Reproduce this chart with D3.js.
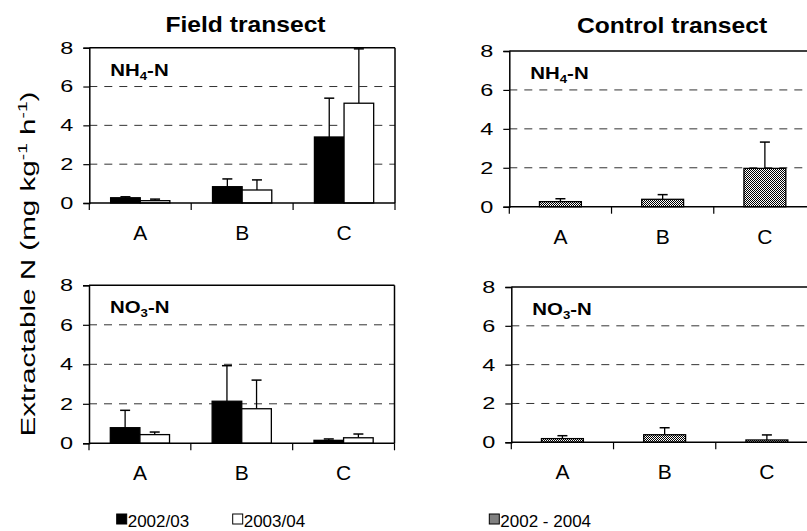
<!DOCTYPE html>
<html>
<head>
<meta charset="utf-8">
<script src="https://cdn.jsdelivr.net/npm/d3@7"></script>
<style>
	body { margin: 0; background: white; }
	svg { display: block; font-family: Arial, 'Liberation Sans', sans-serif; }
</style>
</head>
<body>
<svg id="svg"></svg>
<script>
const categories = ['A', 'B', 'C']
const yTicks = [0, 2, 4, 6, 8]
const legendLabels = ['2002/03', '2003/04', '2002 - 2004']

// field transect, two seasons (mean, + error)
const fieldNH4_0203 = [0.27, 0.84, 3.40]
const fieldNH4_0203Err = [0.05, 0.40, 2.00]
const fieldNH4_0304 = [0.12, 0.67, 5.14]
const fieldNH4_0304Err = [0.08, 0.52, 2.80]
const fieldNO3_0203 = [0.79, 2.13, 0.15]
const fieldNO3_0203Err = [0.88, 1.80, 0.07]
const fieldNO3_0304 = [0.44, 1.75, 0.28]
const fieldNO3_0304Err = [0.13, 1.45, 0.19]

// control transect, pooled
const controlNH4 = [0.26, 0.38, 1.97]
const controlNH4Err = [0.15, 0.24, 1.35]
const controlNO3 = [0.19, 0.39, 0.12]
const controlNO3Err = [0.15, 0.36, 0.26]

const w = 807
const h = 531

let svg = d3.select('#svg').attr('width', w).attr('height', h)

let defs = svg.append('defs')
let pat = defs.append('pattern').attr('id', 'checker')
	.attr('width', 2).attr('height', 2).attr('patternUnits', 'userSpaceOnUse')
pat.append('rect').attr('width', 2).attr('height', 2).attr('fill', 'white')
pat.append('rect').attr('width', 1).attr('height', 1).attr('fill', 'black')
pat.append('rect').attr('x', 1).attr('y', 1).attr('width', 1).attr('height', 1).attr('fill', 'black')

const fills = ['black', 'white', 'url(#checker)']

const panels = [
	{ x0: 89.3, x1: 395, top: 47.7, zero: 203, label: 'NH', sub: '4', right: true,
		series: [[fieldNH4_0203, fieldNH4_0203Err, 0], [fieldNH4_0304, fieldNH4_0304Err, 1]] },
	{ x0: 509.3, x1: 816, top: 51, zero: 206.7, label: 'NH', sub: '4', right: false,
		series: [[controlNH4, controlNH4Err, 2]] },
	{ x0: 89, x1: 394.5, top: 285.3, zero: 443.3, label: 'NO', sub: '3', right: true,
		series: [[fieldNO3_0203, fieldNO3_0203Err, 0], [fieldNO3_0304, fieldNO3_0304Err, 1]] },
	{ x0: 511.3, x1: 818, top: 287, zero: 442.3, label: 'NO', sub: '3', right: false,
		series: [[controlNO3, controlNO3Err, 2]] }
]

// the original text is drawn wider than plain Arial
const tickStretch = 1.38
const labelStretch = 1.2
const titleStretch = 1.12

const drawPanel = p => {
	let g = svg.append('g')

	let x = d3.scaleBand().domain(categories).range([p.x0, p.x1])
	let xs = d3.scaleBand().domain(d3.range(p.series.length))
		.range([0, x.bandwidth()]).paddingOuter(0.72)
	let y = d3.scaleLinear().domain([0, 8]).range([p.zero, p.top])

	// dashed grid
	g.selectAll('.grid').data(yTicks.filter(t => t > 0 && t < 8)).enter()
		.append('line')
		.attr('x1', p.x0).attr('x2', p.x1)
		.attr('y1', d => y(d)).attr('y2', d => y(d))
		.attr('stroke', '#333').attr('stroke-width', 1)
		.attr('stroke-dasharray', '8,7')

	// frame
	g.append('line').attr('x1', p.x0).attr('x2', p.x1).attr('y1', y(8)).attr('y2', y(8))
		.attr('stroke', 'black').attr('stroke-width', 1.5)
	if (p.right) {
		g.append('line').attr('x1', p.x1).attr('x2', p.x1).attr('y1', y(8)).attr('y2', y(0))
			.attr('stroke', 'black').attr('stroke-width', 1.5)
	}

	p.series.forEach((s, si) => {
		let [vals, errs, fi] = s
		let data = categories.map((c, i) => ({ c, v: vals[i], e: errs[i] }))
		let bg = g.append('g')
		let cx = d => x(d.c) + xs(si) + xs.bandwidth() / 2

		bg.selectAll('line.err').data(data).enter().append('line')
			.attr('x1', cx).attr('x2', cx)
			.attr('y1', d => y(d.v)).attr('y2', d => y(d.v + d.e))
			.attr('stroke', 'black').attr('stroke-width', 1.3)
		bg.selectAll('line.cap').data(data).enter().append('line')
			.attr('x1', d => cx(d) - 5).attr('x2', d => cx(d) + 5)
			.attr('y1', d => y(d.v + d.e)).attr('y2', d => y(d.v + d.e))
			.attr('stroke', 'black').attr('stroke-width', 1.5)

		bg.selectAll('rect').data(data).enter().append('rect')
			.attr('x', d => x(d.c) + xs(si))
			.attr('width', xs.bandwidth())
			.attr('y', d => y(d.v))
			.attr('height', d => y(0) - y(d.v))
			.attr('fill', fills[fi])
			.attr('stroke', 'black').attr('stroke-width', 1.3)
	})

	// y axis
	let ya = g.append('g').attr('transform', `translate(${p.x0},0)`)
		.call(d3.axisLeft(y).tickValues(yTicks).tickSize(6).tickPadding(0))
	ya.select('.domain').attr('stroke-width', 1.5)
	ya.selectAll('.tick line').attr('stroke-width', 1.2)
	ya.selectAll('text').attr('font-size', 17).attr('fill', 'black')
		.attr('font-family', 'Arial, Liberation Sans, sans-serif')
		.attr('x', 0)
		.attr('transform', `translate(-16,0) scale(${tickStretch},1)`)

	// x axis, ticks on band edges
	g.append('line').attr('x1', p.x0).attr('x2', p.x1).attr('y1', y(0)).attr('y2', y(0))
		.attr('stroke', 'black').attr('stroke-width', 1.5)
	let edges = categories.map(c => x(c)).concat([p.x1])
	g.selectAll('.xt').data(edges).enter().append('line')
		.attr('x1', d => d).attr('x2', d => d)
		.attr('y1', y(0)).attr('y2', y(0) + 7)
		.attr('stroke', 'black').attr('stroke-width', 1.2)
	g.selectAll('.xl').data(categories).enter().append('text')
		.attr('x', d => x(d) + x.bandwidth() / 2)
		.attr('y', y(0) + 37)
		.attr('text-anchor', 'middle').attr('font-size', 21)
		.text(d => d)

	// panel label with subscript
	let t = g.append('text')
		.attr('transform', `translate(${p.x0 + 21},${p.top + 28}) scale(${labelStretch},1)`)
		.attr('font-size', 17).attr('font-weight', 'bold')
	t.append('tspan').text(p.label)
	t.append('tspan').attr('font-size', 11).attr('dy', 4).text(p.sub)
	t.append('tspan').attr('dy', -4).text('-N')
}

panels.forEach(drawPanel)

// titles
svg.append('text').attr('transform', `translate(245.5,31.5) scale(${titleStretch},1)`)
	.attr('text-anchor', 'middle')
	.attr('font-size', 22).attr('font-weight', 'bold').text('Field transect')
svg.append('text').attr('transform', `translate(672,33) scale(${titleStretch},1)`)
	.attr('text-anchor', 'middle')
	.attr('font-size', 22).attr('font-weight', 'bold').text('Control transect')

// y label
let yl = svg.append('text').attr('transform', 'translate(35,264) rotate(-90) scale(1.48,1)')
	.attr('text-anchor', 'middle').attr('font-size', 20)
yl.append('tspan').text('Extractable N (mg  kg')
yl.append('tspan').attr('font-size', 13).attr('dy', -8).text('-1')
yl.append('tspan').attr('dy', 8).text(' h')
yl.append('tspan').attr('font-size', 13).attr('dy', -8).text('-1')
yl.append('tspan').attr('dy', 8).text(')')

// legend
const legendX = [116.7, 232.7, 489.3]
const legendFills = ['black', 'white', '#808080']
let lg = svg.append('g')
lg.selectAll('rect').data(legendLabels).enter().append('rect')
	.attr('x', (d, i) => legendX[i]).attr('y', 514)
	.attr('width', 10).attr('height', 10)
	.attr('fill', (d, i) => legendFills[i])
	.attr('stroke', 'black').attr('stroke-width', 1)
lg.selectAll('text').data(legendLabels).enter().append('text')
	.attr('x', (d, i) => legendX[i] + 11).attr('y', 527)
	.attr('font-size', 17)
	.text(d => d)
</script>
</body>
</html>
